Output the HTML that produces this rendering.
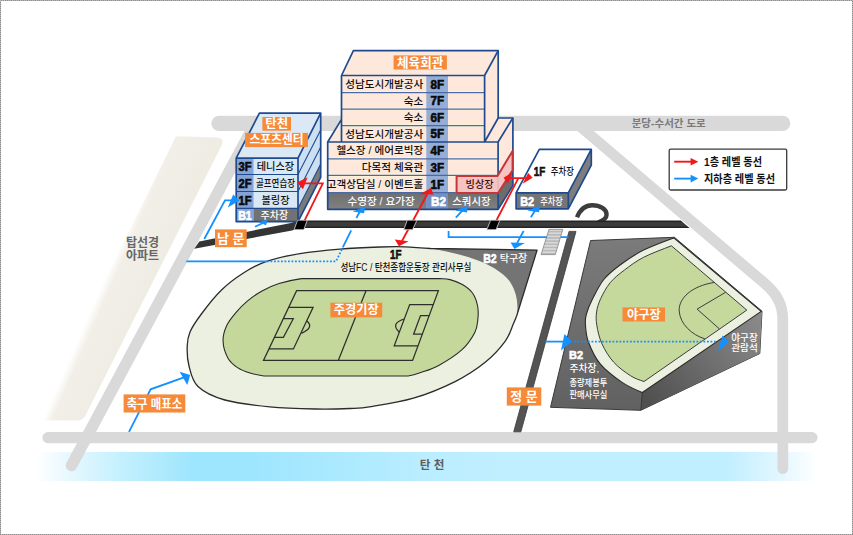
<!DOCTYPE html>
<html lang="ko">
<head>
<meta charset="utf-8">
<title>탄천종합운동장 안내도</title>
<style>
html,body{margin:0;padding:0;background:#fff;}
body{width:853px;height:535px;overflow:hidden;font-family:"Liberation Sans","Noto Sans CJK KR",sans-serif;}
svg{display:block;}
svg text{font-family:"Liberation Sans","Noto Sans CJK KR",sans-serif;}
</style>
</head>
<body>
<svg width="853" height="535" viewBox="0 0 853 535">
<defs>
<linearGradient id="river" x1="36" x2="817" y1="0" y2="0" gradientUnits="userSpaceOnUse">
<stop offset="0" stop-color="#ffffff"/><stop offset="0.0435" stop-color="#e6f8ff"/><stop offset="0.1076" stop-color="#c4f0fe"/><stop offset="0.1588" stop-color="#b0eafd"/>
<stop offset="0.1972" stop-color="#9ee6fe"/><stop offset="0.2804" stop-color="#9ee6fe"/><stop offset="0.3764" stop-color="#aae9fe"/><stop offset="0.4917" stop-color="#b9edff"/><stop offset="0.594" stop-color="#c0efff"/>
<stop offset="0.8835" stop-color="#c0efff"/><stop offset="0.9462" stop-color="#dff6ff"/><stop offset="1" stop-color="#ffffff"/>
</linearGradient>
<linearGradient id="beige" x1="99.6" y1="290" x2="139.9" y2="307.6" gradientUnits="userSpaceOnUse">
<stop offset="0" stop-color="#f3f1e9" stop-opacity="0"/><stop offset="0.2" stop-color="#f1efe7"/><stop offset="1" stop-color="#eeece3"/>
</linearGradient>
<linearGradient id="dkroad" x1="0" x2="0" y1="220.4" y2="228" gradientUnits="userSpaceOnUse">
<stop offset="0" stop-color="#252525"/><stop offset="0.14" stop-color="#232323"/><stop offset="0.3" stop-color="#3c3c3c"/><stop offset="0.74" stop-color="#3a3a3a"/><stop offset="0.88" stop-color="#242424"/><stop offset="1" stop-color="#222"/>
</linearGradient>
<linearGradient id="wall" x1="650" y1="405" x2="762" y2="320" gradientUnits="userSpaceOnUse">
<stop offset="0" stop-color="#505050"/><stop offset="1" stop-color="#8a8a8a"/>
</linearGradient>
<linearGradient id="blk" x1="0" x2="0" y1="238" y2="410" gradientUnits="userSpaceOnUse">
<stop offset="0" stop-color="#7b7b7b"/><stop offset="1" stop-color="#616161"/>
</linearGradient>
<linearGradient id="b2row" x1="0" x2="0" y1="192" y2="209" gradientUnits="userSpaceOnUse">
<stop offset="0" stop-color="#6e6e6e"/><stop offset="1" stop-color="#808080"/>
</linearGradient>
<pattern id="stairs" x="0" y="229.3" width="10" height="3.16" patternUnits="userSpaceOnUse">
<rect width="10" height="3.16" fill="#b9b9b9"/><rect width="10" height="1.1" y="0.2" fill="#e6e6e6"/>
</pattern>
</defs>
<rect width="853" height="535" fill="#fff"/>
<rect x="36" y="452" width="781" height="29" fill="url(#river)"/>
<path d="M176,136.2 L217,137.5 Q225,138.3 221.6,145.5 L85.1,416 Q82.6,420.5 76.6,420.5 L35,420.5 Z" fill="url(#beige)"/>
<g fill="none" stroke="#d9d9d9" stroke-linecap="round" stroke-linejoin="round">
<path d="M219,123.4 H782.7" stroke-width="15.3"/>
<path d="M254.9,123.5 L71.5,465.5" stroke-width="11.4"/>
<path d="M48,437.6 H812" stroke-width="11.2"/>
<path d="M577.9,124.5 L763.5,282.4 C776,293 782.8,303 782.8,320 V468.7" stroke-width="10.8"/>
</g>
<text x="631.7" y="127.3" font-size="10.5" font-weight="bold" fill="#7a7a7a" text-anchor="start">분당-수서간 도로</text>
<text x="142.5" y="246.6" font-size="12" font-weight="bold" fill="#666" text-anchor="middle">탑선경</text>
<text x="142.5" y="260.2" font-size="12" font-weight="bold" fill="#666" text-anchor="middle">아파트</text>
<text x="432.1" y="468.6" font-size="11.6" font-weight="bold" fill="#5e5e5e" text-anchor="middle">탄 천</text>
<path d="M187.2,346.1 C187.4,340.4 187.7,337.3 190,332 C192.3,326.7 195.8,321.5 201,314.5 C206.2,307.5 214.4,296.9 221.5,290 C228.6,283.1 235.9,277.8 243.4,273 C250.9,268.2 257.2,264.6 266.6,261.4 C276,258.2 287.8,255.6 300,253.6 C312.2,251.6 326.7,250.2 340,249.1 C353.3,248 369.2,247.4 380,247 C390.8,246.6 396.6,246.6 405,246.8 C413.4,247.1 419.8,248 430.6,248.5 L537.1,250.1 L516.8,315.5 C515.7,318.5 515.2,319.7 513.3,324 C511.4,328.3 510,334.7 505.3,341.1 C500.6,347.5 493.5,355.6 485.2,362.3 C476.9,369 467.6,375.3 455.6,381.3 C443.6,387.3 427.5,394 413.4,398.2 C399.3,402.4 381.7,404.9 371.1,406.6 C360.5,408.3 359.3,408.1 350,408.5 C340.7,408.9 328.6,409.3 315.2,409 C301.8,408.7 284.9,408.3 269.8,406.8 C254.8,405.3 236.9,403.4 224.9,400 C212.9,396.6 204,392.2 198,386.5 C192,380.8 190.8,372.7 189,366 C187.2,359.3 187,351.8 187.2,346.1 Z" fill="#ecf0e0"/>
<path d="M430.6,248.5 L537.1,250.1 L516.8,315.5 C518.6,304 516.6,292 510.3,282.2 C504,272.5 488,263 468.1,256.9 C455,253.2 443,250.3 430.6,248.5 Z" fill="#747474"/>
<path d="M187.2,346.1 C187.4,340.4 187.7,337.3 190,332 C192.3,326.7 195.8,321.5 201,314.5 C206.2,307.5 214.4,296.9 221.5,290 C228.6,283.1 235.9,277.8 243.4,273 C250.9,268.2 257.2,264.6 266.6,261.4 C276,258.2 287.8,255.6 300,253.6 C312.2,251.6 326.7,250.2 340,249.1 C353.3,248 369.2,247.4 380,247 C390.8,246.6 396.6,246.6 405,246.8 C413.4,247.1 419.8,248 430.6,248.5 L537.1,250.1 L516.8,315.5 C515.7,318.5 515.2,319.7 513.3,324 C511.4,328.3 510,334.7 505.3,341.1 C500.6,347.5 493.5,355.6 485.2,362.3 C476.9,369 467.6,375.3 455.6,381.3 C443.6,387.3 427.5,394 413.4,398.2 C399.3,402.4 381.7,404.9 371.1,406.6 C360.5,408.3 359.3,408.1 350,408.5 C340.7,408.9 328.6,409.3 315.2,409 C301.8,408.7 284.9,408.3 269.8,406.8 C254.8,405.3 236.9,403.4 224.9,400 C212.9,396.6 204,392.2 198,386.5 C192,380.8 190.8,372.7 189,366 C187.2,359.3 187,351.8 187.2,346.1 Z" fill="none" stroke="#2b2b2b" stroke-width="1.3" stroke-linejoin="round"/>
<path d="M301.5,278.6 L440,278.6 C445,278.8 446.3,278.6 450,279.6 C453.7,280.6 458.6,282.3 462.4,284.5 C466.1,286.7 470,289.4 472.5,293 C475,296.6 476.7,301.5 477.6,306 C478.5,310.5 478.3,315.6 477.8,320 C477.3,324.4 477.3,327.8 474.7,332.7 C472.1,337.6 468,344.2 462,349.6 C456,355.1 445.7,361.5 438.7,365.4 C431.7,369.3 425.1,371 420,372.8 C414.9,374.6 412.1,375.3 408.1,376 L264.5,376 C260.2,375.3 254.5,374.4 250,373 C245.5,371.6 241.2,370.1 237.5,367.6 C233.8,365.1 230.4,362.5 228,358.2 C225.6,353.9 223.3,347 223.1,341.6 C222.8,336.2 224.3,330.9 226.5,326 C228.7,321.1 232.6,316.5 236.1,312.4 C239.6,308.3 243,304.8 247.3,301.2 C251.6,297.6 256.7,293.9 262,291 C267.3,288.1 272.4,285.7 279,283.6 C285.6,281.5 294.3,279.6 301.5,278.6 Z" fill="#c4d89b" stroke="#2a2a2a" stroke-width="1.1"/>
<g fill="none" stroke="#2e2e2e" stroke-width="1.25" stroke-linejoin="miter">
<path d="M296.6,290.7 L438.4,290.7 L412.6,360.4 L263.5,360.4 Z"/>
<path d="M366,290.7 L338.3,360.4"/>
<path d="M288.8,307.3 L313.1,307.3 L293.4,348.9 L269,348.9"/>
<path d="M283.4,318.7 L293.3,318.7 L283.4,337.3 L274.4,337.3"/>
<path d="M306.9,321 Q314.5,327.5 301.5,333.4"/>
<path d="M433.2,304.6 L409.7,304.6 L394.2,345.8 L417.9,345.8"/>
<path d="M429,315.6 L420.5,315.6 L413.6,334.2 L422.2,334.2"/>
<path d="M404,319 Q390,323.5 399.3,332.3"/>
</g>
<path d="M590.6,240.5 L674.4,237.3 L762,311.2 L759.8,353.5 L640.8,410.3 L550.5,407.3 Z" fill="url(#blk)" stroke="#3a3a3a" stroke-width="1" stroke-linejoin="round"/>
<path d="M642.3,392.5 L762,311.2 L759.8,353.5 L640.8,410.3 Z" fill="url(#wall)"/>
<path d="M642.3,392.5 L640.8,410.3" stroke="#3a3a3a" stroke-width="1" fill="none"/>
<path d="M642.3,392.5 L761.2,311.4 L673.8,237.9 C664.4,241.4 652.6,245.6 643.6,250.1 C634.6,254.6 626.3,260.3 619.7,265.2 C613.1,270.1 608.3,273.9 603.8,279.5 C599.3,285.1 595.6,292.9 592.7,298.6 C589.8,304.4 587.6,309.8 586.4,314 C585.2,318.2 585.1,319.3 585.4,324 C585.7,328.7 585.9,335.4 588.4,342 C590.9,348.6 594.6,357.2 600.2,363.9 C605.8,370.6 615.1,377.6 622.1,382.4 C629.1,387.2 635.6,389.7 642.3,392.5 Z" fill="#ecf0e0" stroke="#2b2b2b" stroke-width="1.1" stroke-linejoin="round"/>
<path d="M644,381.5 L746.8,310.1 L671.4,245.8 C662.3,249.4 651.4,253.3 643.6,257.3 C635.8,261.3 630.1,265.8 624.5,270 C618.9,274.2 614.2,277.9 610.2,282.7 C606.2,287.5 603,293.7 600.7,298.6 C598.4,303.5 597.2,307.6 596.6,312 C596,316.4 595.9,319.9 596.8,325.2 C597.7,330.5 599.1,337.5 601.9,343.7 C604.7,349.9 608.9,356.9 613.7,362.2 C618.5,367.5 625.5,372.5 630.5,375.7 C635.5,378.9 639.1,379.8 644,381.5 Z" fill="#c6d99c" stroke="#3c3c3c" stroke-width="1"/>
<g fill="none" stroke="#3c3c3c" stroke-width="1">
<path d="M725.6,292.3 L697.1,309.1 L719.5,329"/>
<path d="M714,282.5 C692,286 678.5,298 679.2,311 C680,324 692,335 704.8,338.8"/>
</g>
<path d="M569,231.4 L576,231.4 L520.9,431.8 L513.7,431.8 Z" fill="#545454" stroke="#3a3a3a" stroke-width="0.8"/>
<path d="M549,229.3 L562.8,229.3 L555.3,254.6 L541.1,254.6 Z" fill="url(#stairs)" stroke="#8c8c8c" stroke-width="0.9" stroke-linejoin="round"/>
<path d="M577,217.3 C579.8,210.3 585.2,205.2 592.2,205.2 C600.2,205.2 606.6,209.2 606.6,214.6 C606.6,218 603.6,220.6 598,222.6" fill="none" stroke="#3d3d3d" stroke-width="4.4"/>
<path d="M199.3,241.4 L291,222.9 L298.5,220.4 L300,228 L292,230.4 L194.3,248.8 Z" fill="#343434"/>
<path d="M297,220.4 L680.8,220.4 L689.6,228 L297,228 Z" fill="url(#dkroad)"/>
<polygon points="297.6,220.3 307.2,220.3 303.8,229.6 294.2,229.6" fill="#000" stroke="#cfcfcf" stroke-width="0.7" stroke-linejoin="round"/>
<polygon points="407.3,220.3 416.8,220.3 412.5,229.6 403.9,229.6" fill="#000" stroke="#cfcfcf" stroke-width="0.7" stroke-linejoin="round"/>
<polygon points="490.7,220.3 499.8,220.3 496,229.6 486.9,229.6" fill="#000" stroke="#cfcfcf" stroke-width="0.7" stroke-linejoin="round"/>
<polygon points="341.5,75.5 353.4,50.6 498.2,50.6 484.6,75.5" fill="#fde8db"/>
<polygon points="484.6,75.5 498.2,50.6 498.2,118.2 484.6,142" fill="#fde8db"/>
<rect x="341.5" y="75.5" width="143.1" height="66.5" fill="#fde8db"/>
<polygon points="327.7,142 341.5,119.4 341.5,142" fill="#fde8db"/>
<polygon points="484.6,142 498.2,118 512.9,118 498.1,142" fill="#fde8db"/>
<polygon points="498.1,142 512.9,118 512.9,185.6 498.1,209.3" fill="#fde8db"/>
<rect x="327.7" y="142" width="170.4" height="67.3" fill="#fde8db"/>
<rect x="327.7" y="192.5" width="170.4" height="16.8" fill="url(#b2row)"/>
<polygon points="498.1,192.5 512.9,169.4 512.9,185.6 498.1,209.3" fill="#6c6c6c"/>
<rect x="426.3" y="75.5" width="21.7" height="133.8" fill="#96aed6"/>
<rect x="426.3" y="192.5" width="21.7" height="16.8" fill="#7391c5"/>
<g stroke="#fdf4dc" stroke-width="3" fill="none">
<path d="M342.5,92.6 H426 M448.3,92.6 H483.8"/>
<path d="M342.5,109 H426 M448.3,109 H483.8"/>
<path d="M342.5,125.6 H426 M448.3,125.6 H483.8"/>
<path d="M328.7,158.8 H426 M448.3,158.8 H497.3"/>
<path d="M328.7,175.3 H426 M448.3,175.3 H497.3"/>
</g>
<g stroke="#4a6aa6" stroke-width="1.25" fill="none">
<path d="M341.5,92.6 H484.6"/>
<path d="M341.5,109 H484.6"/>
<path d="M341.5,125.6 H484.6"/>
<path d="M327.7,158.8 H498.1"/>
<path d="M327.7,175.3 H498.1"/>
<path d="M327.7,192.5 H455.8"/>
</g>
<g stroke="#1f4b8e" stroke-width="1.7" fill="none" stroke-linejoin="round">
<path d="M341.5,142 V75.5 L353.4,50.6 H498.2 V118 H512.9 V185.6 L498.1,209.3 H327.7 V142 L341.5,119.4"/>
<path d="M341.5,75.5 H484.6 L498.2,50.6 M484.6,75.5 V142 L498.2,118 M327.7,142 H498.1 L512.9,118 M498.1,142 V209.3"/>
</g>
<path d="M456.6,175.9 L497.5,175.9 L512.6,151 L512.6,170.2 L498.1,193.1 L456.6,193.1 Z" fill="#f3c0c0" fill-opacity="0.93" stroke="#c4363a" stroke-width="2" stroke-linejoin="round"/>
<text x="423.2" y="87.8" font-size="10.6" font-weight="500" fill="#111" text-anchor="end">성남도시개발공사</text>
<text x="437.4" y="88.7" font-size="12" font-weight="bold" fill="#0a0a0a" stroke="#0a0a0a" stroke-width="0.6" text-anchor="middle" textLength="13.6" lengthAdjust="spacingAndGlyphs">8F</text>
<text x="423.2" y="104.6" font-size="10.6" font-weight="500" fill="#111" text-anchor="end">숙소</text>
<text x="437.4" y="105.4" font-size="12" font-weight="bold" fill="#0a0a0a" stroke="#0a0a0a" stroke-width="0.6" text-anchor="middle" textLength="13.6" lengthAdjust="spacingAndGlyphs">7F</text>
<text x="423.2" y="121.1" font-size="10.6" font-weight="500" fill="#111" text-anchor="end">숙소</text>
<text x="437.4" y="121.9" font-size="12" font-weight="bold" fill="#0a0a0a" stroke="#0a0a0a" stroke-width="0.6" text-anchor="middle" textLength="13.6" lengthAdjust="spacingAndGlyphs">6F</text>
<text x="423.2" y="137.6" font-size="10.6" font-weight="500" fill="#111" text-anchor="end">성남도시개발공사</text>
<text x="437.4" y="138.4" font-size="12" font-weight="bold" fill="#0a0a0a" stroke="#0a0a0a" stroke-width="0.6" text-anchor="middle" textLength="13.6" lengthAdjust="spacingAndGlyphs">5F</text>
<text x="423.2" y="154.2" font-size="10.6" font-weight="500" fill="#111" text-anchor="end">헬스장 / 에어로빅장</text>
<text x="437.4" y="155" font-size="12" font-weight="bold" fill="#0a0a0a" stroke="#0a0a0a" stroke-width="0.6" text-anchor="middle" textLength="13.6" lengthAdjust="spacingAndGlyphs">4F</text>
<text x="423.2" y="170.8" font-size="10.6" font-weight="500" fill="#111" text-anchor="end">다목적 체육관</text>
<text x="437.4" y="171.7" font-size="12" font-weight="bold" fill="#0a0a0a" stroke="#0a0a0a" stroke-width="0.6" text-anchor="middle" textLength="13.6" lengthAdjust="spacingAndGlyphs">3F</text>
<text x="423.2" y="187.7" font-size="10.6" font-weight="500" fill="#111" text-anchor="end">고객상담실 / 이벤트홀</text>
<text x="437.4" y="188.5" font-size="12" font-weight="bold" fill="#0a0a0a" stroke="#0a0a0a" stroke-width="0.6" text-anchor="middle" textLength="13.6" lengthAdjust="spacingAndGlyphs">1F</text>
<text x="381.1" y="204.6" font-size="10.6" font-weight="500" fill="#fff" text-anchor="middle">수영장 / 요가장</text>
<text x="438.6" y="205.6" font-size="12.5" font-weight="bold" fill="#fff" stroke="#fff" stroke-width="0.6" text-anchor="middle" textLength="15" lengthAdjust="spacingAndGlyphs">B2</text>
<text x="452.3" y="204.7" font-size="10.4" font-weight="500" fill="#fff" text-anchor="start">스쿼시장</text>
<text x="479.6" y="188.1" font-size="10.2" font-weight="500" fill="#3a1010" text-anchor="middle">빙상장</text>
<rect x="393.6" y="55.4" width="53.3" height="14.1" fill="#f68a39"/>
<text x="420.2" y="66.5" font-size="12.6" font-weight="bold" fill="#fff" text-anchor="middle">체육회관</text>
<polygon points="236.2,158.1 259.4,113.2 320.7,113.2 298,158.1" fill="#dbe9f6"/>
<polygon points="298,158.1 320.7,113.2 320.7,177.4 298,221.6" fill="#cde0f3"/>
<rect x="236.2" y="158.1" width="61.8" height="63.5" fill="#d9e8f6"/>
<rect x="236.2" y="158.1" width="17.3" height="63.5" fill="#84a3d6"/>
<rect x="253.5" y="208.4" width="44.5" height="13.2" fill="#727272"/>
<polygon points="298,208.4 320.7,164 320.7,177.4 298,221.6" fill="#7a7a7a"/>
<g stroke="#1f4b8e" stroke-width="1.1" fill="none">
<path d="M236.2,174.5 H298 L320.7,130.1"/>
<path d="M236.2,191.5 H298 L320.7,147.1"/>
<path d="M236.2,208.4 H298 L320.7,164"/>
</g>
<g stroke="#1f4b8e" stroke-width="1.7" fill="none" stroke-linejoin="round">
<path d="M236.2,158.1 L259.4,113.2 H320.7 V177.4 L298,221.6 H236.2 Z"/>
<path d="M236.2,158.1 H298 L320.7,113.2 M298,158.1 V221.6"/>
</g>
<text x="245" y="170.8" font-size="12" font-weight="bold" fill="#0a0a0a" stroke="#0a0a0a" stroke-width="0.6" text-anchor="middle" textLength="13" lengthAdjust="spacingAndGlyphs">3F</text>
<text x="275.5" y="169.8" font-size="10.2" font-weight="500" fill="#111" text-anchor="middle">테니스장</text>
<text x="245" y="187.7" font-size="12" font-weight="bold" fill="#0a0a0a" stroke="#0a0a0a" stroke-width="0.6" text-anchor="middle" textLength="13" lengthAdjust="spacingAndGlyphs">2F</text>
<text x="275.5" y="186.7" font-size="10.2" font-weight="500" fill="#111" text-anchor="middle" textLength="39" lengthAdjust="spacingAndGlyphs">골프연습장</text>
<text x="245" y="204.6" font-size="12" font-weight="bold" fill="#0a0a0a" stroke="#0a0a0a" stroke-width="0.6" text-anchor="middle" textLength="13" lengthAdjust="spacingAndGlyphs">1F</text>
<text x="275.5" y="203.6" font-size="10.2" font-weight="500" fill="#111" text-anchor="middle">볼링장</text>
<text x="245" y="219.6" font-size="12" font-weight="bold" fill="#fff" stroke="#fff" stroke-width="0.6" text-anchor="middle" textLength="13.5" lengthAdjust="spacingAndGlyphs">B1</text>
<text x="274.3" y="218.8" font-size="10" font-weight="500" fill="#fff" text-anchor="middle">주차장</text>
<rect x="262.4" y="117" width="28.6" height="13.7" fill="#f68a39"/>
<text x="276.7" y="128" font-size="12.4" font-weight="bold" fill="#fff" text-anchor="middle">탄천</text>
<rect x="245.1" y="132.9" width="62.8" height="14.2" fill="#f68a39"/>
<text x="276.5" y="144.3" font-size="12.2" font-weight="bold" fill="#fff" text-anchor="middle" textLength="54" lengthAdjust="spacingAndGlyphs">스포츠센터</text>
<polygon points="516.1,192.8 568.3,192.8 568.3,208.8 516.1,208.8" fill="#757575"/>
<polygon points="568.3,192.8 591.3,149.4 591.3,165.2 568.3,208.8" fill="#7d7d7d"/>
<polygon points="539.3,149.4 591.3,149.4 568.3,192.8 516.1,192.8" fill="#fff"/>
<g stroke="#1f4b8e" stroke-width="1.7" fill="none" stroke-linejoin="round">
<path d="M539.3,149.4 H591.3 V165.2 L568.3,208.8 H516.1 V192.8 Z M516.1,192.8 H568.3 L591.3,149.4 M568.3,192.8 V208.8"/>
</g>
<text x="539.6" y="176.3" font-size="12.5" font-weight="bold" fill="#111" stroke="#111" stroke-width="0.6" text-anchor="middle" textLength="11.5" lengthAdjust="spacingAndGlyphs">1F</text>
<text x="562.3" y="175.4" font-size="10.4" font-weight="500" fill="#111" text-anchor="middle" textLength="23" lengthAdjust="spacingAndGlyphs">주차장</text>
<text x="527.2" y="205.7" font-size="12.5" font-weight="bold" fill="#fff" stroke="#fff" stroke-width="0.6" text-anchor="middle" textLength="14" lengthAdjust="spacingAndGlyphs">B2</text>
<text x="551.5" y="204.8" font-size="10.2" font-weight="500" fill="#fff" text-anchor="middle" textLength="22.5" lengthAdjust="spacingAndGlyphs">주차장</text>
<g fill="none" stroke="#1490ff" stroke-width="1.8" stroke-linejoin="miter">
<path d="M129,431.8 L150.6,389.3 L184,377.4"/>
<path d="M204.3,239 L225,200.4 H232"/>
<path d="M255,226.8 L262.5,223.2"/>
<path d="M186.3,261.3 H267"/>
<path d="M267,261.3 H336 L342.3,248.6" stroke-dasharray="1.8 1.7"/>
<path d="M342.8,247.3 L351.2,230.4 M356.4,218 L361.6,208.2"/>
<path d="M455.8,217.6 L464.3,208.7 M530.9,217.2 L536.1,208.7"/>
<path d="M448.6,231 V237.2 H546.8 M560.8,237.2 H568.6"/>
<path d="M523.6,231 L516,245.2"/>
<path d="M545.5,341.6 H565"/>
<path d="M574,341.6 H717" stroke-dasharray="1.8 1.7"/>
</g>
<g fill="#1490ff">
<polygon points="190.2,375 179.6,371.8 187.3,385" fill="#1490ff"/>
<polygon points="239.4,200.6 233.2,194.6 227.8,207.4" fill="#1490ff"/>
<polygon points="267.7,220 258,222 266,225.2" fill="#1490ff"/>
<polygon points="365.6,206.6 352.6,211.6 364,213.2" fill="#1490ff"/>
<polygon points="468.1,205.8 455.2,210.5 467,212.4" fill="#1490ff"/>
<polygon points="540.1,205.8 527.2,210.4 539,212.3" fill="#1490ff"/>
<polygon points="514.4,248.9 510.6,242.6 524.8,243" fill="#1490ff"/>
<polygon points="572.2,341.4 564.4,334 561,350.4" fill="#1490ff"/>
<polygon points="729,341.8 722.5,335.4 718,351.4" fill="#1490ff"/>
</g>
<g fill="none" stroke="#f01818" stroke-width="1.8">
<path d="M303,183.4 H322.8 L304.4,220.8"/>
<path d="M427.3,194 L402,241"/>
<path d="M508,178.2 H526.5 M518.4,178.2 L496.6,220"/>
</g>
<polygon points="297,182.4 307.6,177.2 303,189.2" fill="#f01818"/>
<polygon points="431,188 419.7,194.2 433.5,194.4" fill="#f01818"/>
<polygon points="398.9,246.2 394.8,239.6 408.6,241.2" fill="#f01818"/>
<polygon points="503.6,177.7 512,172.6 507.8,183.8" fill="#f01818"/>
<polygon points="532.6,177.7 528.2,173 522.6,183.8" fill="#f01818"/>
<polygon points="297.6,220.3 307.2,220.3 303.8,229.6 294.2,229.6" fill="#000" stroke="#cfcfcf" stroke-width="0.7" stroke-linejoin="round"/>
<polygon points="407.3,220.3 416.8,220.3 412.5,229.6 403.9,229.6" fill="#000" stroke="#cfcfcf" stroke-width="0.7" stroke-linejoin="round"/>
<polygon points="490.7,220.3 499.8,220.3 496,229.6 486.9,229.6" fill="#000" stroke="#cfcfcf" stroke-width="0.7" stroke-linejoin="round"/>
<rect x="215" y="229.4" width="31.7" height="17.8" fill="#f68a39"/>
<text x="230.8" y="242.9" font-size="13" font-weight="bold" fill="#fff" text-anchor="middle">남 문</text>
<rect x="506.8" y="387.4" width="34.5" height="18.2" fill="#f68a39"/>
<text x="524" y="401.1" font-size="13" font-weight="bold" fill="#fff" text-anchor="middle">정 문</text>
<rect x="123.6" y="394.4" width="61.7" height="18.1" fill="#f68a39"/>
<text x="154.4" y="407.9" font-size="12.6" font-weight="bold" fill="#fff" text-anchor="middle" textLength="55.5" lengthAdjust="spacingAndGlyphs">축구 매표소</text>
<rect x="330.4" y="302.7" width="51.8" height="14.7" fill="#f68a39"/>
<text x="356.3" y="314.3" font-size="12.2" font-weight="bold" fill="#fff" text-anchor="middle">주경기장</text>
<rect x="622.5" y="307.4" width="42.5" height="14.1" fill="#f68a39"/>
<text x="643.8" y="318.7" font-size="12.2" font-weight="bold" fill="#fff" text-anchor="middle">야구장</text>
<text x="395.8" y="259" font-size="12" font-weight="bold" fill="#111" stroke="#111" stroke-width="0.6" text-anchor="middle" textLength="11.5" lengthAdjust="spacingAndGlyphs">1F</text>
<text x="405.9" y="270.6" font-size="10.4" font-weight="500" fill="#111" text-anchor="middle" textLength="131" lengthAdjust="spacingAndGlyphs">성남FC / 탄천종합운동장 관리사무실</text>
<text x="490" y="262.5" font-size="12.5" font-weight="bold" fill="#fff" stroke="#fff" stroke-width="0.6" text-anchor="middle" textLength="13.5" lengthAdjust="spacingAndGlyphs">B2</text>
<text x="513.5" y="261.5" font-size="10" font-weight="500" fill="#fff" text-anchor="middle">탁구장</text>
<text x="576" y="358.9" font-size="11.2" font-weight="bold" fill="#fff" stroke="#fff" stroke-width="0.6" text-anchor="middle" textLength="14" lengthAdjust="spacingAndGlyphs">B2</text>
<text x="569.4" y="372.4" font-size="9.8" font-weight="500" fill="#fff" text-anchor="start">주차장,</text>
<text x="569.4" y="386.4" font-size="9.6" font-weight="500" fill="#fff" text-anchor="start" textLength="38" lengthAdjust="spacingAndGlyphs">종량제봉투</text>
<text x="569.4" y="397.9" font-size="9.6" font-weight="500" fill="#fff" text-anchor="start" textLength="38" lengthAdjust="spacingAndGlyphs">판매사무실</text>
<text x="744.5" y="341.2" font-size="9.6" font-weight="500" fill="#fff" text-anchor="middle">야구장</text>
<text x="744.5" y="351" font-size="9.6" font-weight="500" fill="#fff" text-anchor="middle">관람석</text>
<rect x="669.2" y="149.1" width="117.5" height="40.9" rx="1.5" fill="#fff" stroke="#3a3a3a" stroke-width="1.3"/>
<path d="M674.2,161.7 H692" stroke="#f01818" stroke-width="1.9"/>
<polygon points="698.3,161.7 690.6,157.9 690.6,165.5" fill="#f01818"/>
<path d="M674.2,178.6 H692" stroke="#1490ff" stroke-width="1.9"/>
<polygon points="698.3,178.6 690.6,174.8 690.6,182.4" fill="#1490ff"/>
<text x="704" y="165.7" font-size="11" font-weight="bold" fill="#111" text-anchor="start" textLength="58" lengthAdjust="spacingAndGlyphs">1층 레벨 동선</text>
<text x="704" y="182.5" font-size="11" font-weight="bold" fill="#111" text-anchor="start" textLength="71" lengthAdjust="spacingAndGlyphs">지하층 레벨 동선</text>
<rect x="0.5" y="0.5" width="852" height="534" fill="none" stroke="#b9b9b9" stroke-width="1" shape-rendering="crispEdges"/>
<rect x="0.5" y="0.5" width="852" height="534" fill="none" stroke="#8c8c8c" stroke-width="1" stroke-dasharray="1 1" shape-rendering="crispEdges"/>
</svg>
</body>
</html>
